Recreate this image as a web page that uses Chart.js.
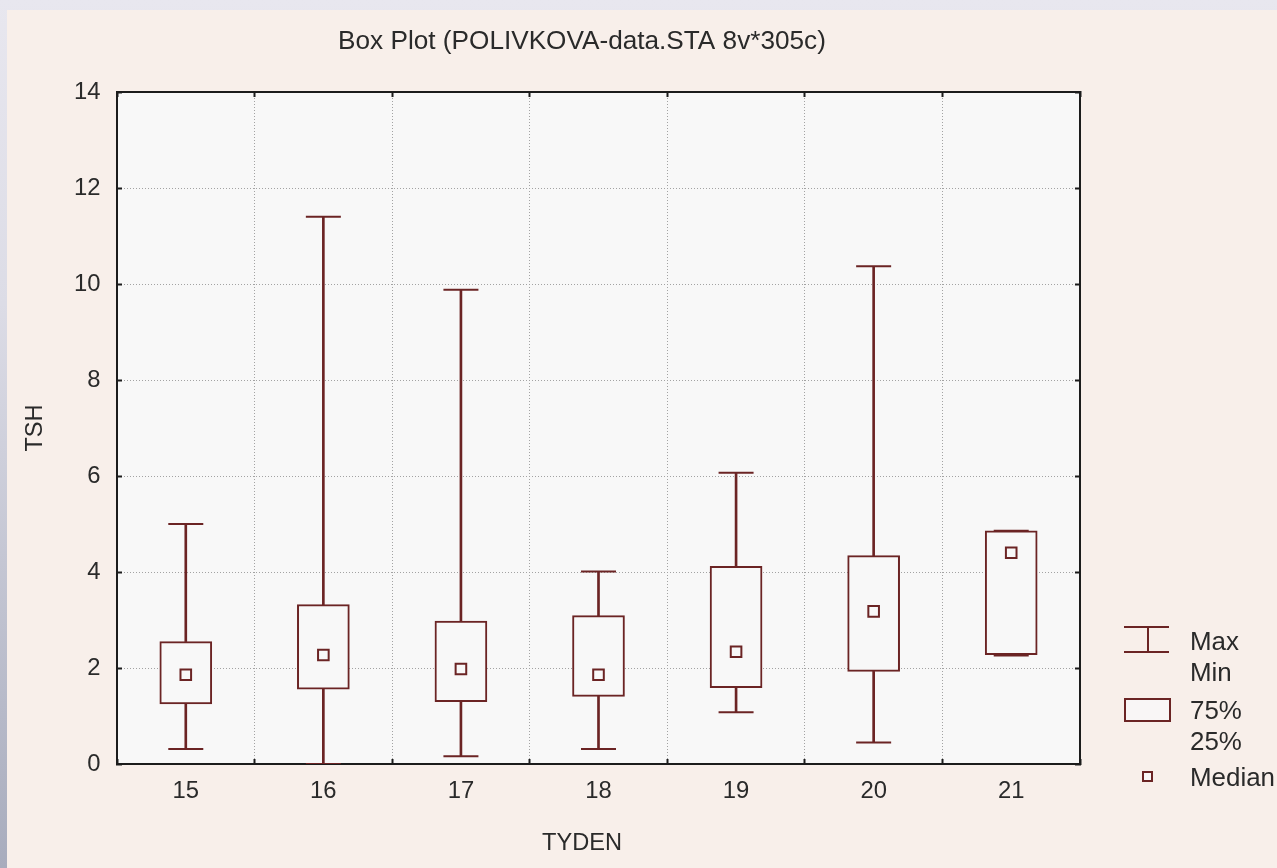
<!DOCTYPE html>
<html><head><meta charset="utf-8">
<script src="https://cdn.jsdelivr.net/npm/chart.js@4.4.1/dist/chart.umd.min.js"></script>
<style>
html,body{margin:0;padding:0;}
body{width:1277px;height:868px;position:relative;overflow:hidden;background:linear-gradient(to bottom,#e8e7ef 0%,#dcdce6 35%,#a8acbd 100%);}
#panel{position:absolute;left:7px;top:10px;right:0;bottom:0;background:#f8efea;}
#wrap{position:absolute;left:0;top:0;width:1164px;height:868px;}
.lg{position:absolute;left:1190px;color:#2a2a2a;white-space:nowrap;line-height:1;transform:translateY(-50%);}
svg.ic{position:absolute;overflow:visible;}
</style></head>
<body>
<div id="panel"></div>
<div id="wrap"><canvas id="c" width="1164" height="868"></canvas></div>

<svg class="ic" style="left:1120px;top:620px" width="56" height="40">
  <g stroke="#6b2424" stroke-width="2" fill="none">
    <line x1="4" y1="7" x2="49" y2="7"/>
    <line x1="28" y1="7" x2="28" y2="32"/>
    <line x1="4" y1="32" x2="49" y2="32"/>
  </g>
</svg>
<svg class="ic" style="left:1120px;top:694px" width="56" height="32">
  <rect x="5" y="5" width="45" height="22" fill="#f9f6f6" stroke="#6b2424" stroke-width="2"/>
</svg>
<svg class="ic" style="left:1138px;top:767px" width="20" height="20">
  <rect x="5" y="5" width="9" height="9" fill="#f9f6f6" stroke="#6b2424" stroke-width="2"/>
</svg>
<div class="lg" id="l1" style="top:642px">Max</div>
<div class="lg" id="l2" style="top:673px">Min</div>
<div class="lg" id="l3" style="top:711px">75%</div>
<div class="lg" id="l4" style="top:742px">25%</div>
<div class="lg" id="l5" style="top:778px">Median</div>

<script>
// ---- data ----
const categories   = ['15', '16', '17', '18', '19', '20', '21'];
const maxValues    = [5.00, 11.40, 9.88, 4.01, 6.07, 10.37, 4.86];
const q3Values     = [2.55, 3.32, 2.98, 3.09, 4.12, 4.34, 4.86];
const medianValues = [1.86, 2.27, 1.98, 1.86, 2.34, 3.18, 4.40];
const q1Values     = [1.25, 1.56, 1.30, 1.41, 1.59, 1.93, 2.28];
const minValues    = [0.31, 0.00, 0.16, 0.31, 1.08, 0.45, 2.26];
const yTickValues  = [0, 2, 4, 6, 8, 10, 12, 14];
const titleText = 'Box Plot (POLIVKOVA-data.STA 8v*305c)';
const xTitle = 'TYDEN';
const yTitle = 'TSH';

// ---- fonts ----
const mctx = document.createElement('canvas').getContext('2d');
function hasFont(name){
  const t = 'mmmmmmmmwwwwwiiiiilllQQ';
  mctx.font = '40px monospace'; const a = mctx.measureText(t).width;
  mctx.font = '40px "' + name + '", monospace'; const b = mctx.measureText(t).width;
  return Math.abs(a - b) > 0.5;
}
const FAMILY = hasFont('Liberation Sans Narrow') ? '"Liberation Sans Narrow", "Liberation Sans", Arial, sans-serif' : '"Liberation Sans", Arial, sans-serif';
function fitSize(text, target){ mctx.font = '40px ' + FAMILY; return 40 * target / mctx.measureText(text).width; }
const axisSize = fitSize('TYDEN', 80);
const tickSize = fitSize('10', 26.5);
const titleSize = fitSize(titleText, 488);
const legendSize = fitSize('Median', 85);

['l1','l2','l3','l4','l5'].forEach(id => {
  const el = document.getElementById(id);
  el.style.fontFamily = FAMILY; el.style.fontSize = legendSize + 'px';
});

const LINE = '#6b2424';
const BOXFILL = '#f8f8f8';
const GRID = '#a3a3a3';
const AXIS = '#1c1c1c';
const TXT = '#2a2a2a';

const plotBg = {
  id: 'plotBg',
  beforeDraw(chart){
    const {ctx, chartArea: a} = chart;
    ctx.save(); ctx.fillStyle = '#f8f8f8';
    ctx.fillRect(a.left, a.top, a.right - a.left, a.bottom - a.top);
    ctx.restore();
  }
};

const n = categories.length;
const yMin = yTickValues[0], yMax = yTickValues[yTickValues.length - 1];

new Chart(document.getElementById('c'), {
  type: 'bar',
  data: {
    labels: categories,
    datasets: [
      { type: 'line', label: 'Median', data: medianValues, showLine: false,
        pointStyle: 'rect', pointRadius: 7.5, pointBorderWidth: 2,
        pointBorderColor: LINE, pointBackgroundColor: BOXFILL, order: 0 },
      { type: 'line', label: 'Max', data: maxValues, showLine: false,
        pointStyle: 'line', pointRadius: 17.5, pointBorderWidth: 2,
        pointBorderColor: LINE, borderColor: LINE, order: 1 },
      { type: 'line', label: 'Min', data: minValues, showLine: false,
        pointStyle: 'line', pointRadius: 17.5, pointBorderWidth: 2,
        pointBorderColor: LINE, borderColor: LINE, order: 1 },
      { type: 'bar', label: 'Box', data: categories.map((_, i) => [q1Values[i], q3Values[i]]),
        barThickness: 52, borderWidth: 2, borderColor: LINE, backgroundColor: BOXFILL,
        borderSkipped: false, grouped: false, order: 2 },
      { type: 'bar', label: 'Upper', data: categories.map((_, i) => [q3Values[i], maxValues[i]]),
        barThickness: 2, borderWidth: 0, backgroundColor: LINE, grouped: false, order: 3 },
      { type: 'bar', label: 'Lower', data: categories.map((_, i) => [minValues[i], q1Values[i]]),
        barThickness: 2, borderWidth: 0, backgroundColor: LINE, grouped: false, order: 3 }
    ]
  },
  options: {
    responsive: false,
    animation: false,
    events: [],
    layout: { padding: 0 },
    plugins: {
      legend: { display: false },
      tooltip: { enabled: false },
      title: {
        display: true, text: titleText, color: TXT,
        font: { family: FAMILY, size: titleSize, weight: 'normal' },
        padding: { top: 42 - 0.6 * titleSize, bottom: 50 - 0.6 * titleSize }
      },
      subtitle: {
        display: true, position: 'bottom', text: xTitle, color: TXT,
        font: { family: FAMILY, size: axisSize, weight: 'normal' },
        padding: { top: 0, bottom: 25 - 0.6 * axisSize }
      }
    },
    scales: {
      x: {
        type: 'category', position: 'bottom', offset: true, z: 1,
        grid: { offset: true, lineWidth: 1, tickLength: -5, tickWidth: 2, tickColor: AXIS,
          color: c => (c.index === 0 || c.index === n) ? 'rgba(0,0,0,0)' : GRID },
        border: { display: true, color: AXIS, width: 2, dash: [1, 2] },
        ticks: { color: TXT, font: { family: FAMILY, size: tickSize }, padding: 32.7 - 0.6 * tickSize,
          maxRotation: 0, autoSkip: false },
        afterFit: s => { s.height = 79 - 0.6 * axisSize; }
      },
      x2: {
        type: 'category', position: 'top', offset: true,
        grid: { offset: true, drawOnChartArea: false, tickLength: -5, tickWidth: 2, tickColor: AXIS },
        border: { display: true, color: AXIS, width: 2 },
        ticks: { display: false },
        afterFit: s => { s.height = 0; }
      },
      y: {
        type: 'linear', position: 'left', min: yMin, max: yMax,
        afterBuildTicks: s => { s.ticks = yTickValues.map(v => ({ value: v })); },
        grid: { lineWidth: 1, tickLength: -5, tickWidth: 2, tickColor: AXIS,
          color: c => (c.tick && (c.tick.value === yMin || c.tick.value === yMax)) ? 'rgba(0,0,0,0)' : GRID },
        border: { display: true, color: AXIS, width: 2, dash: [1, 2] },
        ticks: { color: TXT, font: { family: FAMILY, size: tickSize }, padding: 21.5 },
        title: { display: true, text: yTitle, color: TXT,
          font: { family: FAMILY, size: axisSize, weight: 'normal' },
          padding: { top: 35.5 - 0.6 * axisSize, bottom: 0 } },
        afterFit: s => { s.width = 117; }
      },
      y2: {
        type: 'linear', position: 'right', min: yMin, max: yMax,
        afterBuildTicks: s => { s.ticks = yTickValues.map(v => ({ value: v })); },
        grid: { drawOnChartArea: false, tickLength: -5, tickWidth: 2, tickColor: AXIS },
        border: { display: true, color: AXIS, width: 2 },
        ticks: { display: false },
        afterFit: s => { s.width = 84; }
      }
    }
  },
  plugins: [plotBg]
});
</script>
</body></html>
